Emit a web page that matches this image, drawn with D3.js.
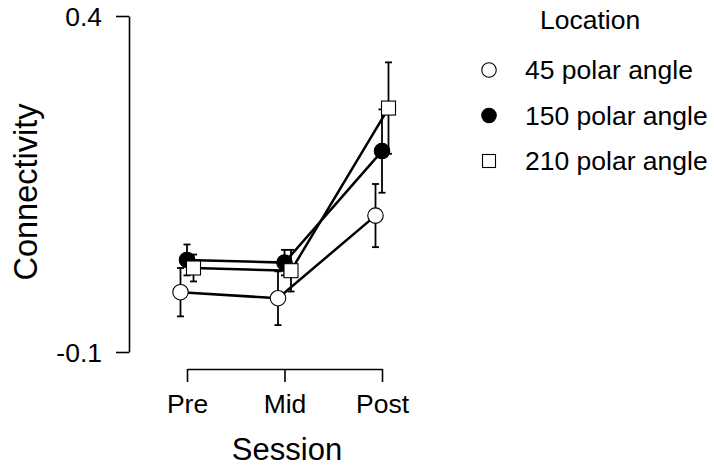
<!DOCTYPE html>
<html>
<head>
<meta charset="utf-8">
<script src="https://cdn.jsdelivr.net/npm/d3@7"></script>
<style>
  body { margin: 0; background: #fff; }
  text { font-family: "Liberation Sans", Arial, sans-serif; fill: #000; }
  .axis path, .axis line { stroke: #000; stroke-width: 1.6; }
  .axis text { font-size: 26.5px; }
</style>
</head>
<body>
<div id="chart"></div>
<script>
// data
var sessions = ["Pre", "Mid", "Post"];
var locations = ["45 polar angle", "150 polar angle", "210 polar angle"];
var means45 = [-0.011, -0.020, 0.103];
var means150 = [0.037, 0.033, 0.199];
var means210 = [0.025, 0.021, 0.263];
var err45 = [0.036, 0.040, 0.047];
var err150 = [0.023, 0.019, 0.062];
var err210 = [0.020, 0.031, 0.068];
var yTicks = [-0.1, 0.4];

var width = 714,
    height = 470;

var svg = d3.select("#chart")
    .append("svg")
    .attr("width", width)
    .attr("height", height);

var x = d3.scalePoint().domain(sessions).range([187, 382]);
var dodge = d3.scalePoint().domain(locations).range([-6.5, 6.5]);
var y = d3.scaleLinear().domain([-0.1, 0.4]).range([352, 16]);

var series = [
    {key: locations[0], shape: "circle", fill: "#fff", means: means45, errs: err45},
    {key: locations[1], shape: "circle", fill: "#000", means: means150, errs: err150},
    {key: locations[2], shape: "square", fill: "#fff", means: means210, errs: err210}
];
series.forEach(function(s) {
    s.values = sessions.map(function(c, i) {
        return {session: c, mean: s.means[i], err: s.errs[i]};
    });
});

function px(s, d) { return x(d.session) + dodge(s.key); }

// axes
svg.append("g")
    .attr("class", "axis")
    .attr("transform", "translate(129,0)")
    .call(d3.axisLeft(y).tickValues(yTicks).tickSize(13).tickSizeOuter(0)
        .tickPadding(14).tickFormat(function(d) { return String(d); }))
    .selectAll("text").attr("dy", "0.36em");

svg.append("g")
    .attr("class", "axis")
    .attr("transform", "translate(0,369)")
    .call(d3.axisBottom(x).tickSize(13).tickSizeOuter(0).tickPadding(12));

svg.selectAll(".axis .domain").attr("fill", "none");

svg.append("text")
    .attr("transform", "translate(37,192) rotate(-90)")
    .attr("text-anchor", "middle")
    .style("font-size", "32.5px")
    .text("Connectivity");

svg.append("text")
    .attr("x", 287)
    .attr("y", 460)
    .attr("text-anchor", "middle")
    .style("font-size", "31px")
    .text("Session");

// lines
var line = d3.line();
var groups = svg.selectAll(".series")
    .data(series)
    .enter().append("g")
    .attr("class", "series");

groups.append("path")
    .attr("fill", "none")
    .attr("stroke", "#000")
    .attr("stroke-width", 2.5)
    .attr("d", function(s) {
        return line(s.values.map(function(d) { return [px(s, d), y(d.mean)]; }));
    });

// error bars
groups.each(function(s) {
    var g = d3.select(this);
    var eb = g.selectAll(".eb")
        .data(s.values)
        .enter().append("g")
        .attr("class", "eb")
        .attr("stroke", "#000")
        .attr("stroke-width", 1.8);
    eb.append("line")
        .attr("x1", function(d) { return px(s, d); })
        .attr("x2", function(d) { return px(s, d); })
        .attr("y1", function(d) { return y(d.mean + d.err); })
        .attr("y2", function(d) { return y(d.mean - d.err); });
    [1, -1].forEach(function(sign) {
        eb.append("line")
            .attr("x1", function(d) { return px(s, d) - 3.5; })
            .attr("x2", function(d) { return px(s, d) + 3.5; })
            .attr("y1", function(d) { return y(d.mean + sign * d.err); })
            .attr("y2", function(d) { return y(d.mean + sign * d.err); });
    });
});

// markers
function drawMarker(sel, s, cx, cy, size) {
    if (s.shape === "circle") {
        sel.append("circle")
            .attr("cx", cx).attr("cy", cy)
            .attr("r", size / 2)
            .attr("fill", s.fill)
            .attr("stroke", "#000")
            .attr("stroke-width", 1.1);
    } else {
        sel.append("rect")
            .attr("x", cx - size / 2).attr("y", cy - size / 2)
            .attr("width", size).attr("height", size)
            .attr("fill", s.fill)
            .attr("stroke", "#000")
            .attr("stroke-width", 1.1);
    }
}

groups.each(function(s) {
    var g = d3.select(this);
    s.values.forEach(function(d) {
        drawMarker(g, s, px(s, d), y(d.mean), s.shape === "circle" ? 15.5 : 14);
    });
});

// legend
var legend = svg.append("g").attr("transform", "translate(489,0)");
legend.append("text")
    .attr("x", 51)
    .attr("y", 29)
    .style("font-size", "26.5px")
    .text("Location");

var rowY = d3.scalePoint().domain(locations).range([70, 161]);
series.forEach(function(s) {
    var row = legend.append("g");
    drawMarker(row, s, 0, rowY(s.key), s.shape === "circle" ? 14.5 : 13);
    row.append("text")
        .attr("x", 36)
        .attr("y", rowY(s.key))
        .attr("dy", "0.35em")
        .style("font-size", "26.5px")
        .text(s.key);
});
</script>
</body>
</html>
